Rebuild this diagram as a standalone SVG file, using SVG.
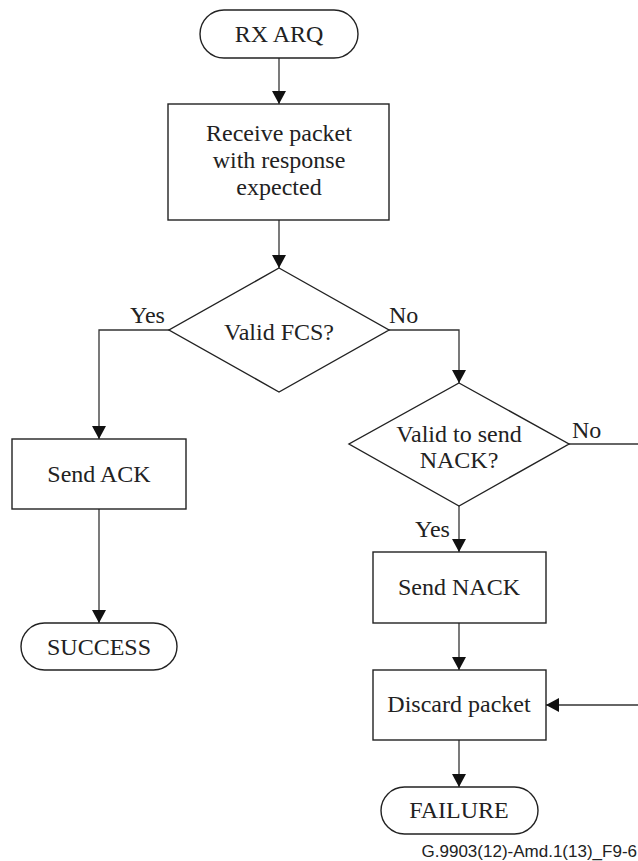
<svg xmlns="http://www.w3.org/2000/svg" width="638" height="861" viewBox="0 0 638 861">
<style>
.s{fill:#fff;stroke:#222;stroke-width:1.4}
.c{fill:none;stroke:#333;stroke-width:1.3}
.t{font-family:"Liberation Serif","Times New Roman",serif;font-size:24px;fill:#222;text-anchor:middle}
.l{font-family:"Liberation Serif","Times New Roman",serif;font-size:24px;fill:#222}
.f{font-family:"Liberation Sans",Arial,sans-serif;font-size:17px;fill:#222;text-anchor:end}
</style>
<defs>
<marker id="ah" markerUnits="userSpaceOnUse" markerWidth="16" markerHeight="14" refX="13" refY="7" orient="auto">
<path d="M0,0 L13,7 L0,14 Z" fill="#111"/>
</marker>
</defs>
<g id="connectors">
<path class="c" d="M279,58 V104" marker-end="url(#ah)"/>
<path class="c" d="M279,220 V268" marker-end="url(#ah)"/>
<path class="c" d="M169,330 H99 V439" marker-end="url(#ah)"/>
<path class="c" d="M389,330 H459 V383" marker-end="url(#ah)"/>
<path class="c" d="M99,509 V623" marker-end="url(#ah)"/>
<path class="c" d="M569,444 H638"/>
<path class="c" d="M459,506 V552" marker-end="url(#ah)"/>
<path class="c" d="M459,623 V670" marker-end="url(#ah)"/>
<path class="c" d="M638,705 H546" marker-end="url(#ah)"/>
<path class="c" d="M459,740 V787" marker-end="url(#ah)"/>
<text class="l" x="130" y="323">Yes</text>
<text class="l" x="389" y="323">No</text>
<text class="l" x="572" y="438">No</text>
<text class="l" x="415" y="537">Yes</text>
</g>
<g id="rx_arq">
<rect class="s" x="200" y="10" width="158" height="48" rx="24"/>
<text class="t" x="279" y="42">RX ARQ</text>
</g>
<g id="receive">
<rect class="s" x="168" y="104" width="221" height="116"/>
<text class="t" x="279" y="141">Receive packet</text>
<text class="t" x="279" y="168">with response</text>
<text class="t" x="279" y="195">expected</text>
</g>
<g id="valid_fcs">
<path class="s" d="M279,268 L389,330 L279,392 L169,330 Z"/>
<text class="t" x="279" y="340">Valid FCS?</text>
</g>
<g id="valid_nack">
<path class="s" d="M459,383 L569,444 L459,506 L349,444 Z"/>
<text class="t" x="459" y="442">Valid to send</text>
<text class="t" x="459" y="468">NACK?</text>
</g>
<g id="send_ack">
<rect class="s" x="12" y="439" width="174" height="70"/>
<text class="t" x="99" y="482">Send ACK</text>
</g>
<g id="success">
<rect class="s" x="21" y="623" width="156" height="47" rx="23.5"/>
<text class="t" x="99" y="655">SUCCESS</text>
</g>
<g id="send_nack">
<rect class="s" x="373" y="552" width="173" height="71"/>
<text class="t" x="459" y="595">Send NACK</text>
</g>
<g id="discard">
<rect class="s" x="373" y="670" width="173" height="70"/>
<text class="t" x="459" y="712">Discard packet</text>
</g>
<g id="failure">
<rect class="s" x="381" y="787" width="157" height="47" rx="23.5"/>
<text class="t" x="459" y="818">FAILURE</text>
</g>
<text class="f" x="637" y="857">G.9903(12)-Amd.1(13)_F9-6</text>
</svg>
